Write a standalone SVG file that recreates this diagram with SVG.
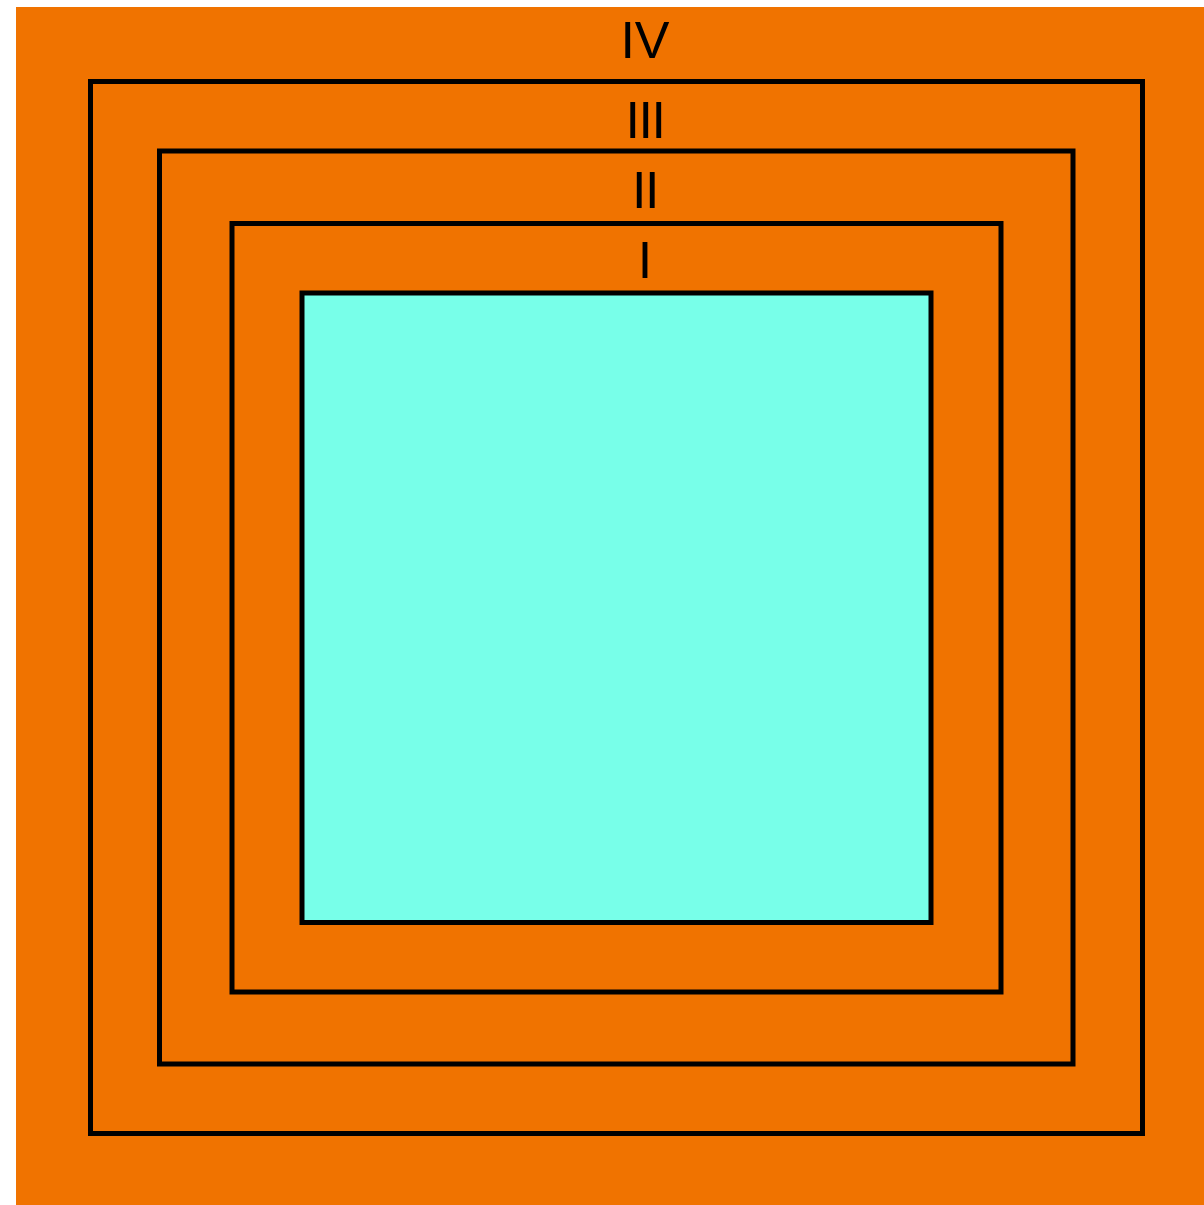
<svg xmlns="http://www.w3.org/2000/svg" width="1204" height="1205" viewBox="0 0 1204 1205">
<style>
.ring{fill:none;stroke:#000;stroke-width:5}
.lbl{font-family:"Liberation Sans",Arial,sans-serif;font-size:52px;fill:#000;text-anchor:middle}
</style>
<rect x="0" y="0" width="1204" height="1205" fill="#fff"/>
<g id="zone-IV">
<rect x="16" y="7" width="1188" height="1198" fill="#f07300"/>
<text class="lbl" x="645" y="57.5">IV</text>
</g>
<g id="zone-III">
<rect class="ring" x="90.5" y="81.5" width="1052" height="1052"/>
<text class="lbl" x="645" y="137.7" letter-spacing="-1.5">III</text>
</g>
<g id="zone-II">
<rect class="ring" x="159.5" y="151" width="913.5" height="913"/>
<text class="lbl" x="645" y="207.7" letter-spacing="-1.5">II</text>
</g>
<g id="zone-I">
<rect class="ring" x="232" y="223.5" width="769" height="768.5"/>
<text class="lbl" x="645" y="277.7">I</text>
</g>
<g id="core">
<rect x="302" y="293" width="629" height="629.5" fill="#78ffe9" stroke="#000" stroke-width="5"/>
</g>
<g id="connectors"/>
</svg>
